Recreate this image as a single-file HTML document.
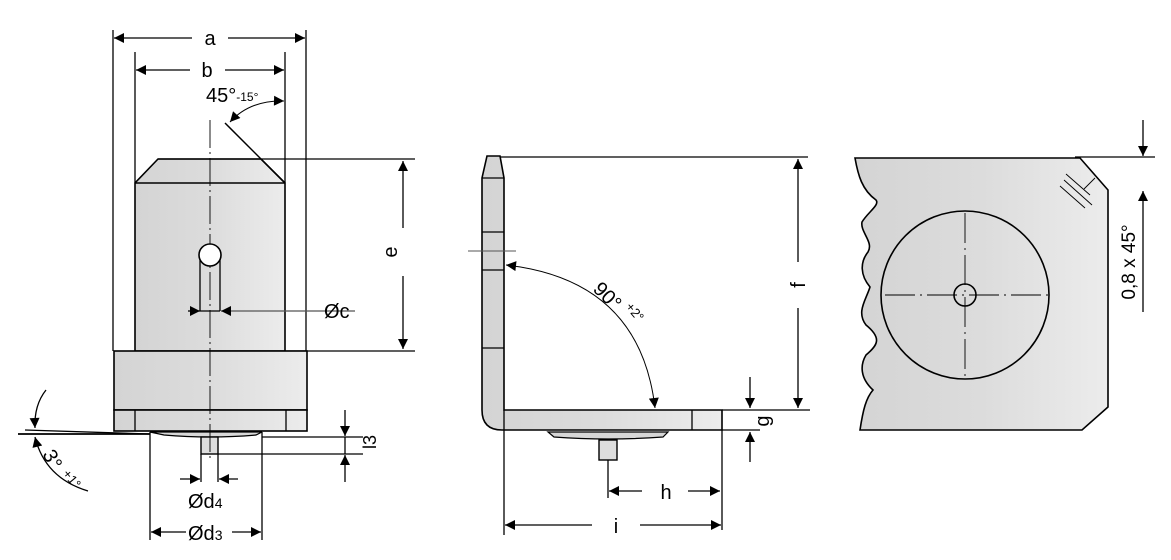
<!DOCTYPE html>
<html><head><meta charset="utf-8"><style>
html,body{margin:0;padding:0;background:#fff;}
svg{display:block;}
text{font-family:"Liberation Sans",Arial,sans-serif;fill:#000;}
</style></head><body>
<svg width="1171" height="560" viewBox="0 0 1171 560" xmlns="http://www.w3.org/2000/svg">
<defs>
<linearGradient id="g" x1="0" x2="1" y1="0" y2="0">
<stop offset="0" stop-color="#d4d4d4"/><stop offset="0.5" stop-color="#dcdcdc"/><stop offset="1" stop-color="#ececec"/>
</linearGradient>
<marker id="ar" viewBox="0 0 10 10" refX="10" refY="5" markerWidth="12" markerHeight="10" markerUnits="userSpaceOnUse" orient="auto-start-reverse">
<path d="M0,0 L10,5 L0,10 z" fill="#000"/></marker>
</defs>
<g stroke="#000" fill="none" stroke-width="1.3">
<!-- LEFT VIEW -->
<line x1="113" y1="30" x2="113" y2="351"/>
<line x1="306" y1="30" x2="306" y2="351"/>
<line x1="135" y1="52" x2="135" y2="183"/>
<line x1="285" y1="52" x2="285" y2="183"/>
<line x1="114" y1="38" x2="192" y2="38" marker-start="url(#ar)"/>
<line x1="228" y1="38" x2="305" y2="38" marker-end="url(#ar)"/>
<line x1="136" y1="70" x2="190" y2="70" marker-start="url(#ar)"/>
<line x1="225" y1="70" x2="284" y2="70" marker-end="url(#ar)"/>
<path d="M284,101 Q250,100 230,122" marker-start="url(#ar)" marker-end="url(#ar)" stroke-width="1"/>
<path d="M158,159 L261,159 L285,183 L285,351 L135,351 L135,183 Z" fill="url(#g)" stroke-width="1.6"/>
<line x1="135" y1="183" x2="285" y2="183" stroke-width="1.6"/>
<line x1="225" y1="123" x2="285" y2="183" stroke-width="1.5"/>
<line x1="158" y1="159" x2="415" y2="159"/>
<line x1="285" y1="351" x2="415" y2="351"/>
<line x1="403" y1="161" x2="403" y2="228" marker-start="url(#ar)"/>
<line x1="403" y1="276" x2="403" y2="349" marker-end="url(#ar)"/>
<rect x="114" y="351" width="193" height="59" fill="url(#g)" stroke-width="1.6"/>
<rect x="114" y="410" width="193" height="21" fill="url(#g)" stroke-width="1.6"/>
<line x1="135" y1="410" x2="135" y2="431"/><line x1="286" y1="410" x2="286" y2="431"/>
<path d="M150,432 L262,432 L256,435 Q210,439 164,435 Z" fill="#d8d8d8" stroke-width="1.2"/>
<rect x="201" y="437" width="17" height="17" fill="#ddd" stroke-width="1.4"/>
<line x1="210" y1="120" x2="210" y2="462" stroke-width="0.9" stroke-dasharray="28,4,2,4"/>
<line x1="200" y1="255" x2="200" y2="311"/><line x1="220" y1="255" x2="220" y2="311"/>
<circle cx="210" cy="255" r="11" fill="#fff" stroke-width="1.6"/>
<line x1="188" y1="311" x2="200" y2="311" marker-end="url(#ar)"/>
<line x1="355" y1="311" x2="221" y2="311" marker-end="url(#ar)" stroke="#555"/>
<line x1="200" y1="311" x2="220" y2="311"/>
<line x1="18" y1="434" x2="150" y2="434" stroke-width="1.8"/>
<line x1="25" y1="430" x2="150" y2="434"/>
<path d="M46,390 Q34,405 35,428" marker-end="url(#ar)"/>
<path d="M88,491 Q45,478 35,437" marker-end="url(#ar)"/>
<line x1="262" y1="437" x2="363" y2="437"/>
<line x1="218" y1="454" x2="363" y2="454"/>
<line x1="345" y1="410" x2="345" y2="436" marker-end="url(#ar)"/>
<line x1="345" y1="482" x2="345" y2="455" marker-end="url(#ar)"/>
<line x1="345" y1="437" x2="345" y2="454"/>
<line x1="201" y1="454" x2="201" y2="482"/><line x1="218" y1="454" x2="218" y2="482"/>
<line x1="180" y1="479" x2="200" y2="479" marker-end="url(#ar)"/>
<line x1="238" y1="479" x2="219" y2="479" marker-end="url(#ar)"/>
<line x1="150" y1="432" x2="150" y2="540"/><line x1="262" y1="432" x2="262" y2="540"/>
<line x1="151" y1="532" x2="186" y2="532" marker-start="url(#ar)"/>
<line x1="232" y1="532" x2="261" y2="532" marker-end="url(#ar)"/>

<!-- MIDDLE VIEW -->
<path d="M487,156 L500,156 L504,178 L504,410 L722,410 L722,430 L504,430 L502,430 Q482,430 482,410 L482,178 Z" fill="url(#g)" stroke-width="1.6"/>
<line x1="482" y1="178" x2="504" y2="178"/>
<line x1="482" y1="232" x2="504" y2="232"/>
<line x1="482" y1="270" x2="504" y2="270"/>
<line x1="482" y1="348" x2="504" y2="348"/>
<line x1="692" y1="410" x2="692" y2="430"/>
<line x1="504" y1="410" x2="504" y2="430"/>
<path d="M548,432 L668,432 L663,437 Q608,441 554,437 Z" fill="#d6d6d6" stroke-width="1.2"/>
<rect x="599" y="440" width="18" height="20" fill="#ddd" stroke-width="1.4"/>
<line x1="500" y1="157" x2="808" y2="157"/>
<line x1="722" y1="410" x2="810" y2="410"/>
<line x1="722" y1="430" x2="760" y2="430"/>
<line x1="798" y1="159" x2="798" y2="262" marker-start="url(#ar)"/>
<line x1="798" y1="308" x2="798" y2="408" marker-end="url(#ar)"/>
<line x1="750" y1="377" x2="750" y2="408" marker-end="url(#ar)"/>
<line x1="750" y1="462" x2="750" y2="432" marker-end="url(#ar)"/>
<line x1="468" y1="251" x2="516" y2="251" stroke="#555" stroke-width="1"/>
<path d="M506,265 Q640,280 655,408" marker-start="url(#ar)" marker-end="url(#ar)" stroke-width="1"/>
<line x1="608" y1="460" x2="608" y2="498"/>
<line x1="609" y1="491" x2="642" y2="491" marker-start="url(#ar)"/>
<line x1="688" y1="491" x2="720" y2="491" marker-end="url(#ar)"/>
<line x1="504" y1="430" x2="504" y2="535"/><line x1="722" y1="430" x2="722" y2="530"/>
<line x1="505" y1="525" x2="592" y2="525" marker-start="url(#ar)"/>
<line x1="640" y1="525" x2="721" y2="525" marker-end="url(#ar)"/>

<!-- RIGHT VIEW -->
<path d="M855,158 L1080,158 L1108,190 L1108,407 L1082,430 L860,430 C863,410 866,398 873,390 C860,378 860,365 866,355 C878,345 882,338 866,325 C856,312 866,300 870,287 C860,275 860,262 868,252 C874,242 860,232 862,222 C868,212 880,205 876,200 C862,190 858,175 855,158 Z" fill="url(#g)" stroke-width="1.6"/>
<circle cx="965" cy="295" r="84" stroke-width="1.6"/>
<circle cx="965" cy="295" r="11" stroke-width="1.6"/>
<line x1="965" y1="213" x2="965" y2="377" stroke-width="0.9" stroke-dasharray="30,5,2,5"/>
<line x1="885" y1="295" x2="1048" y2="295" stroke-width="0.9" stroke-dasharray="30,5,2,5"/>
<g stroke-width="0.9">
<line x1="1064" y1="180" x2="1092" y2="205"/>
<line x1="1060" y1="186" x2="1085" y2="208"/>
<line x1="1066" y1="174" x2="1090" y2="195"/>
<line x1="1084" y1="189" x2="1095" y2="178"/>
</g>
<line x1="1075" y1="157" x2="1155" y2="157"/>
<line x1="1143" y1="120" x2="1143" y2="156" marker-end="url(#ar)"/>
<line x1="1143" y1="312" x2="1143" y2="191" marker-end="url(#ar)"/>
</g>
<!-- TEXT -->
<g font-size="20">
<text x="210" y="45" text-anchor="middle">a</text>
<text x="207" y="77" text-anchor="middle">b</text>
<text x="206" y="102">45°<tspan font-size="12" dy="-1">-15°</tspan></text>
<text x="324" y="318">Øc</text>
<text transform="translate(397,252) rotate(-90)" text-anchor="middle">e</text>
<text transform="translate(376,442) rotate(-90)" text-anchor="middle" font-size="18">l3</text>
<text x="188" y="508">Ød<tspan font-size="14">4</tspan></text>
<text x="188" y="540">Ød<tspan font-size="14">3</tspan></text>
<text transform="translate(42,454) rotate(62)" font-size="20">3°</text>
<text transform="translate(62,474) rotate(50)" font-size="13">+1°</text>
<text transform="translate(592,290) rotate(45)" font-size="20">90°</text>
<text transform="translate(625,307) rotate(50)" font-size="13">+2°</text>
<text transform="translate(805,285) rotate(-90)" text-anchor="middle">f</text>
<text transform="translate(769,421) rotate(-90)" text-anchor="middle">g</text>
<text x="666" y="499" text-anchor="middle">h</text>
<text x="616" y="533" text-anchor="middle">i</text>
<text transform="translate(1135,262) rotate(-90)" text-anchor="middle" font-size="19">0,8 x 45°</text>
</g>
</svg>
</body></html>
